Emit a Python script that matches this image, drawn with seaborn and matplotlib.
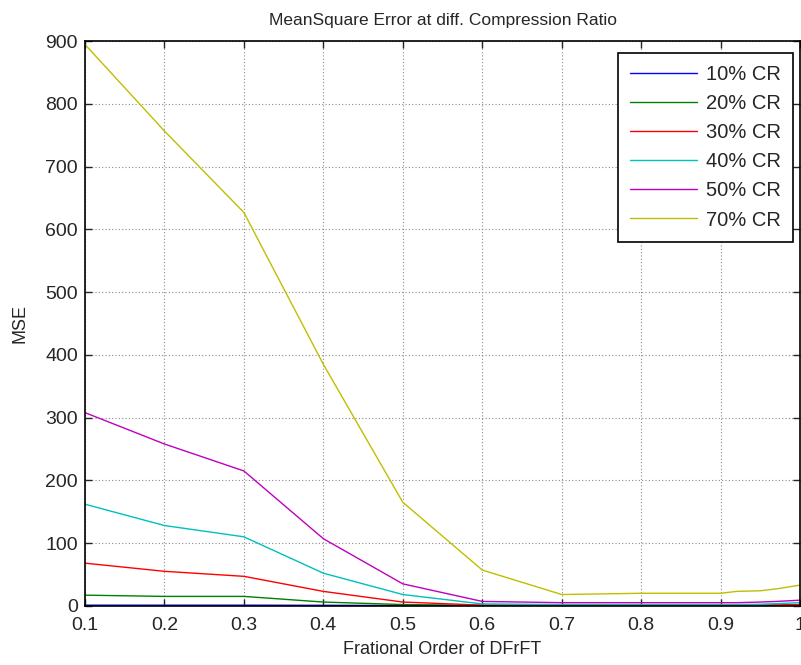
"""MSE vs fractional order of DFrFT at different compression ratios"""

import matplotlib
matplotlib.use('Agg')
import matplotlib.pyplot as plt
import pandas as pd
import seaborn as sns

# fractional orders
orders = [0.1, 0.2, 0.3, 0.4, 0.5, 0.6, 0.7, 0.8, 0.9, 0.92, 0.95, 0.97, 1.0]

# MSE for each compression ratio
mse_10 = [1.0, 1.0, 1.0, 0.8, 0.5, 0.3, 0.3, 0.3, 0.3, 0.3, 0.3, 0.3, 0.4]
mse_20 = [17, 15, 15, 6, 2, 0.6, 0.5, 0.5, 0.5, 0.5, 0.6, 0.7, 0.9]
mse_30 = [68, 55, 47, 23, 6, 1, 1, 1, 1, 1, 1.2, 1.5, 2]
mse_40 = [162, 128, 110, 52, 18, 3, 2, 2, 2, 2, 2.5, 3.5, 5]
mse_50 = [308, 258, 215, 107, 35, 7, 5, 5, 5, 5, 6, 7, 9]
mse_70 = [895, 757, 627, 385, 165, 57, 18, 20, 20, 23, 24, 27, 33]

labels = ['10% CR', '20% CR', '30% CR', '40% CR', '50% CR', '70% CR']
series = [mse_10, mse_20, mse_30, mse_40, mse_50, mse_70]
colors = ['#0000ff', '#008000', '#ff0000', '#00bfbf', '#bf00bf', '#bfbf00']

df = pd.concat([pd.DataFrame({'order': orders, 'mse': s, 'cr': lab})
                for s, lab in zip(series, labels)])

sns.set_style('white')
plt.rcParams['font.family'] = ['Liberation Sans', 'DejaVu Sans']

fig = plt.figure(figsize=(8.01, 6.65), dpi=100)
ax = fig.add_axes([0.106, 0.089, 0.893, 0.849])

sns.lineplot(data=df, x='order', y='mse', hue='cr', palette=colors,
             linewidth=1.0, ax=ax)

ax.set_xlim(0.1, 1.0)
ax.set_ylim(0, 900)
ax.set_xticks([0.1, 0.2, 0.3, 0.4, 0.5, 0.6, 0.7, 0.8, 0.9, 1.0])
ax.set_xticklabels(['0.1', '0.2', '0.3', '0.4', '0.5', '0.6', '0.7', '0.8', '0.9', '1'])
ax.set_yticks(range(0, 901, 100))
ax.grid(True, linestyle=(0, (1, 2)), color='#8a8a8a', linewidth=0.8)
ax.tick_params(direction='in', length=5, width=1, labelsize=14,
               top=True, right=True, bottom=True, left=True)
ax.tick_params(axis='x', pad=8)
ax.tick_params(axis='y', pad=5)
for sp in ax.spines.values():
    sp.set_color('black')
    sp.set_linewidth(1.2)

ax.set_title('MeanSquare Error at diff. Compression Ratio', fontsize=12.5, pad=12)
ax.set_xlabel('Frational Order of DFrFT', fontsize=13, labelpad=5)
ax.set_ylabel('MSE', fontsize=13, labelpad=12)

leg = ax.legend(loc='upper right', bbox_to_anchor=(0.990, 0.979), fontsize=14.5,
                handlelength=3.3, frameon=True, fancybox=False, framealpha=1,
                borderpad=0.6, labelspacing=0.5, handletextpad=0.45,
                borderaxespad=0)
leg.get_frame().set_edgecolor('black')
leg.get_frame().set_linewidth(1.2)

fig.savefig('out.png', dpi=100)
